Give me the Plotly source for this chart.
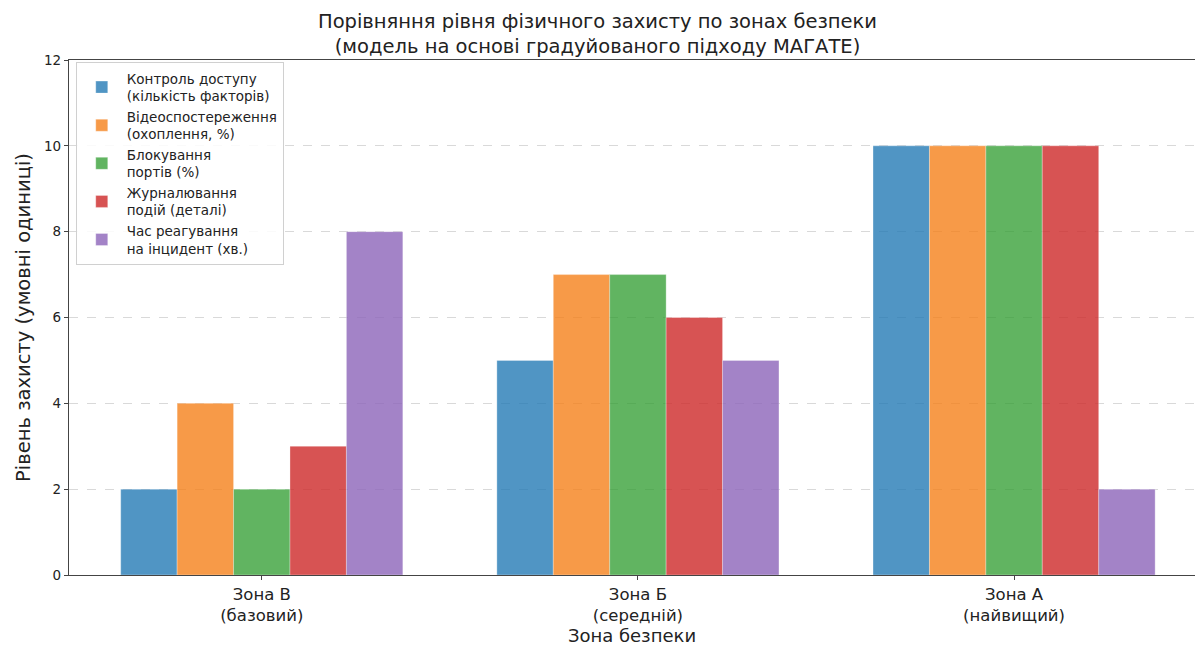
import plotly.graph_objects as go

zones = ["Зона В<br>(базовий)", "Зона Б<br>(середній)", "Зона А<br>(найвищий)"]
series_names = [
    "Контроль доступу<br>(кількість факторів)",
    "Відеоспостереження<br>(охоплення, %)",
    "Блокування<br>портів (%)",
    "Журналювання<br>подій (деталі)",
    "Час реагування<br>на інцидент (хв.)",
]
access_control = [2, 5, 10]
video = [4, 7, 10]
port_block = [2, 7, 10]
logging = [3, 6, 10]
response_time = [8, 5, 2]
series_values = [access_control, video, port_block, logging, response_time]
colors = ["rgba(31,119,180,0.78)", "rgba(245,125,20,0.78)", "rgba(44,155,44,0.75)",
          "rgba(205,40,40,0.8)", "rgba(140,100,185,0.8)"]
y_ticks = [0, 2, 4, 6, 8, 10, 12]

bar_w = 0.15
fig = go.Figure()
for i, (name, vals, c) in enumerate(zip(series_names, series_values, colors)):
    offs = (i - 2) * bar_w
    fig.add_trace(go.Bar(
        x=list(range(len(zones))), y=vals, name=name, legendgroup=f"g{i}",
        width=bar_w, offset=offs - bar_w / 2,
        marker=dict(color=c, line=dict(color="rgba(255,255,255,0.5)", width=0.6)),
    ))

font = "DejaVu Sans, sans-serif"
fig.update_layout(
    width=1195, height=646,
    margin=dict(l=69, r=0, t=60, b=71),
    plot_bgcolor="white", paper_bgcolor="white",
    font=dict(family=font, color="#222"),
    barmode="overlay",
    title=dict(
        text="Порівняння рівня фізичного захисту по зонах безпеки<br>(модель на основі градуйованого підходу МАГАТЕ)",
        x=0.5, xanchor="center", yref="container", y=1 - 28 / 646, yanchor="middle",
        font=dict(size=19.5, family=font, color="#222"),
    ),
    xaxis=dict(
        range=[-0.5125, 2.481],
        tickmode="array", tickvals=list(range(len(zones))), ticktext=zones,
        tickfont=dict(size=16.5), ticks="outside", ticklen=4, tickcolor="#444",
        showline=True, linecolor="#444", linewidth=1.2, mirror=True,
        showgrid=False, zeroline=False,
        title=dict(text="Зона безпеки", font=dict(size=18), standoff=4),
    ),
    yaxis=dict(
        range=[0, 12], tickvals=y_ticks,
        tickfont=dict(size=13.5), ticks="outside", ticklen=4, tickcolor="#444",
        showline=True, linecolor="#444", linewidth=1.2, mirror=True,
        showgrid=True, gridcolor="rgba(170,170,170,0.45)", griddash="dash", gridwidth=1,
        zeroline=False, layer="above traces",
        title=dict(text="Рівень захисту (умовні одиниці)", font=dict(size=19.5), standoff=8),
    ),
    legend=dict(
        x=0.006, y=0.996, xanchor="left", yanchor="top",
        bgcolor="rgba(255,255,255,0.85)", bordercolor="#d0d0d0", borderwidth=1,
        font=dict(size=13.5, family=font, color="#222"),
        traceorder="grouped", tracegroupgap=0, itemwidth=40,
    ),
)

fig.write_html("out.html")
